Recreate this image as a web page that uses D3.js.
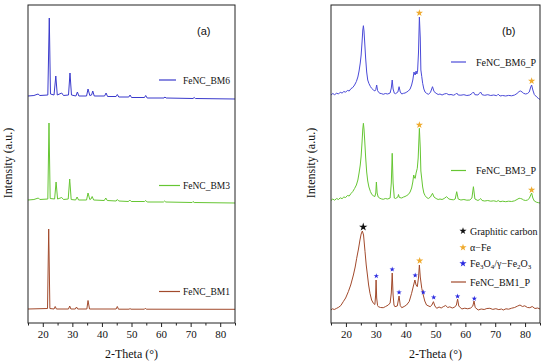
<!DOCTYPE html>
<html>
<head>
<meta charset="utf-8">
<script src="https://cdn.jsdelivr.net/npm/d3@7"></script>
<style>
  body { margin: 0; background: #fff; }
  svg { display: block; }
  text { font-family: "Liberation Serif", "Times New Roman", serif; fill: #111; }
</style>
</head>
<body>
<svg id="chart" width="550" height="363"></svg>
<script>
// 2-theta range and ticks
const thetaRange = [15, 85];
const majorTicks = [20, 30, 40, 50, 60, 70, 80];
const minorTicks = [15, 25, 35, 45, 55, 65, 75, 85];

// panel (a): [2theta, intensity (a.u., offset included)]
const bm6 = [[15,227],[17,227.5],[18.4,229],[19,227.5],[21.7,228],[22.2,305],[22.6,229],[23.8,228],[24.4,247],[24.9,228],[26.4,230],[27,227.5],[28.7,228],[29.2,250],[29.7,228],[31.2,227],[31.7,231],[32.2,227],[34.8,227],[35.3,234],[35.9,227.5],[36.5,228],[36.9,232],[37.4,227],[40.9,227],[41.4,230],[41.9,226.5],[44.8,226.5],[45.2,228.5],[45.7,226],[49.1,226],[49.5,228],[50,225.5],[54.4,225.5],[54.8,227.5],[55.3,225],[61,225],[61.3,226],[61.7,225],[70.8,224.5],[71.2,225.5],[71.6,224.5],[85,224]];
const bm3 = [[15,123],[17,123.5],[18.5,125],[19,123.5],[21.7,124],[22.1,200],[22.5,124.5],[24.0,124],[24.5,141],[25,124],[26.4,125.5],[27,123.5],[28.6,124],[29.1,144],[29.6,123.5],[31.1,123],[31.6,126],[32.1,123],[34.8,123],[35.3,130],[35.9,123.5],[36.3,124],[36.7,126.5],[37.2,123],[40.8,122.5],[41.3,125],[41.8,122.5],[44.8,122],[45.2,123.5],[45.7,122],[49,121.5],[49.4,123],[49.9,121.5],[54.4,121.5],[54.8,122.5],[55.3,121],[60.8,121],[61.2,122],[61.6,121],[70.5,120.5],[70.8,121.5],[71.2,120.5],[85,120]];
const bm1 = [[15,14],[21.6,14.5],[22.0,94],[22.4,14.5],[23.8,14],[24.2,16.5],[24.6,14],[28.7,14],[29.1,17],[29.5,14],[31.0,14],[31.4,16],[31.8,14],[34.9,14],[35.3,22.5],[35.8,14],[44.8,14],[45.2,16.5],[45.6,13.8],[49.2,13.8],[49.5,14.5],[49.8,13.8],[54.4,13.8],[54.7,14.8],[55,13.8],[85,13.7]];

// panel (b)
const bm6p = [[15,228],[15.6,229.5],[16.2,228.3],[16.9,229.8],[17.5,229],[18.1,230.8],[18.7,229.9],[19.3,231.5],[19.9,230.8],[20.5,232.6],[21.1,232],[21.7,234.4],[22.3,235.5],[22.9,238],[23.5,241.5],[24.0,246],[24.4,252],[24.8,260],[25.1,268],[25.4,281],[25.65,293],[25.85,297.3],[26.05,292],[26.3,280],[26.6,265],[26.95,251],[27.3,243],[27.7,239.5],[28.2,236.5],[28.6,234.7],[29.2,233],[29.7,232],[30.0,233.5],[30.3,238],[30.6,232.5],[31.0,230.5],[31.4,229.7],[32.0,229.3],[32.5,228.7],[33.2,229.5],[34.0,229],[34.8,230],[35.2,235],[35.5,243],[35.8,234],[36.2,229.8],[36.6,229.3],[37.4,231],[37.8,236.3],[38.2,231],[38.7,229],[39.3,229.7],[39.8,230],[40.4,231],[40.9,232],[41.5,234],[42.0,238],[42.4,243],[42.8,251],[43.0,249],[43.2,248],[43.5,252],[43.75,249],[44.0,252],[44.3,270],[44.6,306],[44.9,285],[45.1,253],[45.4,246.3],[45.7,239.7],[46.1,234],[46.5,231],[47.0,229.7],[47.6,228.7],[48.3,230.5],[49.0,236.3],[49.5,231.5],[50.2,229.7],[50.9,228.5],[51.5,229],[52.2,228],[52.9,229],[53.7,229.5],[54.5,228.2],[55.2,228.5],[56.0,227.8],[56.6,228.5],[57.1,230],[57.6,228],[58.5,227.8],[59.5,228.3],[60.5,227.5],[61.5,228],[62.2,229.5],[62.7,231],[63.2,228.3],[64.2,228],[64.7,229.6],[65.1,231],[65.6,228.3],[66.5,227.7],[67.5,228.3],[68.5,227.5],[69.5,228],[70.5,227.3],[71.0,228.8],[71.6,227],[72.5,227.5],[73.5,227],[74.5,227.6],[75.5,227.2],[76.5,228],[77.3,229.5],[78.0,231.5],[78.5,232],[79.0,231],[79.5,229.7],[80.2,229],[80.8,229.5],[81.4,231],[81.9,236],[82.2,238],[82.6,233],[83.1,228.5],[83.9,226],[84.5,224.5],[85,223.5]];
const bm3p = [[15,122.5],[15.6,124],[16.2,122.8],[16.9,124.5],[17.5,123.5],[18.1,125.2],[18.7,124.3],[19.3,126],[19.9,125.5],[20.5,127.5],[21.1,127],[21.7,129.5],[22.3,131.5],[22.9,134.5],[23.5,138],[24.0,143],[24.4,150],[24.8,158],[25.1,167],[25.4,181],[25.65,194],[25.85,199.7],[26.05,194],[26.3,182],[26.6,166],[26.95,151],[27.3,142],[27.7,136],[28.2,131.5],[28.6,129],[29.2,127],[29.7,126.5],[30.0,130],[30.2,141],[30.45,130],[30.8,126],[31.4,124.7],[32.0,124],[32.5,123.7],[33.2,124.5],[34.0,124],[34.8,125],[35.2,140],[35.5,169.7],[35.8,140],[36.2,125],[36.6,124.5],[37.4,126],[37.6,128.5],[37.9,125.5],[38.7,125],[39.3,126],[39.8,126.5],[40.4,127.5],[40.9,128.5],[41.5,131],[42.0,135],[42.4,141],[42.7,148],[43.0,145],[43.2,144.5],[43.5,150],[43.9,154.7],[44.2,165],[44.6,194.7],[44.9,175],[45.1,152],[45.4,144],[45.7,136],[46.1,130],[46.5,127.5],[47.0,125.5],[47.6,124.5],[48.3,126],[49.0,129.7],[49.5,126],[50.2,124.5],[50.9,123.5],[51.5,124],[52.2,123.5],[52.9,124.5],[53.7,126.3],[54.5,124],[55.2,123.5],[56.0,123.2],[56.6,124],[57.1,131.3],[57.6,124],[58.5,123],[59.5,123.5],[60.5,122.8],[61.5,123],[62.2,125],[62.7,136.3],[63.2,124],[64.2,122.5],[64.7,123.3],[65.1,124.5],[65.6,122.5],[66.5,122],[67.5,122.5],[68.5,121.8],[69.5,122.2],[70.5,121.5],[71.0,122.5],[71.6,121.3],[72.5,121.8],[73.5,121.3],[74.5,121.8],[75.5,121.5],[76.5,122.2],[77.3,123.5],[78.0,124.7],[78.5,124.5],[79.0,124],[79.5,123],[80.2,122.5],[80.8,123],[81.4,124.5],[81.9,128],[82.2,130],[82.6,125],[83.1,122],[83.9,120.7],[84.5,120.3],[85,120]];
const bm1p = [[15,13],[15.5,14.2],[16.1,13.5],[16.9,14.7],[17.6,15.8],[18.3,17.5],[19.1,21.3],[19.9,25],[20.8,31.3],[21.6,38],[22.5,48],[23.1,56],[23.6,64.7],[24.2,74],[24.7,83],[25.1,89],[25.5,92],[25.9,88],[26.4,71.3],[26.8,58],[27.2,48],[27.6,38],[28.06,29.7],[28.6,23],[29.2,19.7],[29.7,18.5],[29.95,28],[30.1,43],[30.3,25],[30.6,17.5],[30.85,16.3],[31.6,15.5],[32.5,15.3],[33.3,16.5],[34.2,18],[34.8,20],[35.2,30],[35.5,50],[35.8,28],[36.1,18],[36.4,16.3],[37.2,17],[37.8,27],[38.2,17.5],[38.7,15.3],[39.5,16.5],[40.3,18],[41.2,21.5],[42.0,29.7],[42.6,37],[43.1,43],[43.5,38],[43.9,36.3],[44.3,45],[44.6,58],[44.9,46],[45.4,34.7],[45.9,28],[46.4,22],[47.0,18],[48.2,16.3],[48.8,18],[49.3,21.3],[49.8,17],[50.4,14.7],[51.2,16],[51.9,15],[52.6,16.3],[53.4,17.5],[54.1,15.5],[54.8,16.2],[55.6,15],[56.4,15.8],[57.0,18],[57.4,24],[57.8,17],[58.8,14],[59.8,14.8],[60.8,14.2],[61.8,15],[62.5,17],[62.9,22],[63.3,15.5],[64.3,13],[65.3,14],[66.3,13.5],[67.2,14.5],[68.2,14.7],[69.2,13.6],[70.2,14.3],[71.2,13.4],[72.1,14],[72.7,13],[73.6,14.2],[74.5,13.8],[75.5,14.8],[76.5,15.5],[77.4,16.8],[78.3,18],[79.1,16.5],[79.9,17.2],[80.8,15.5],[81.6,15.3],[82.4,16.5],[83.3,14.5],[84.2,15],[85,14]];

// phase markers in panel (b)
const graphiteStars = [[25.8,96]];
const alphaFeStars = [[44.6,310],[82.2,242],[44.6,198],[82.2,133],[44.7,62.3]];
const oxideStars = [[30.17,47],[35.5,53.7],[37.8,30.7],[43.2,47.7],[45.9,30.7],[49.4,25.7],[57.4,26.7],[63.0,24.3]];

const blue = "#3a3acc", blueP = "#4a4ad8", green = "#66c633", brown = "#a24a2c";
const gold = "#efaa2e", starBlue = "#2a2ae0";

const svg = d3.select("#chart");
const plotTop = 5, plotBottom = 323;

let drawPanel = (left, right, series, tag) => {
  let x = d3.scaleLinear().domain(thetaRange).range([left, right]);
  let y = d3.scaleLinear().domain([0, 318]).range([plotBottom, plotTop]);
  let g = svg.append("g");

  let line = d3.line()
               .x((d) => x(d[0]))
               .y((d) => y(d[1]));

  series.forEach((s) => {
    g.append("path")
     .attr("d", line(s.data))
     .attr("fill", "none")
     .attr("stroke", s.color)
     .attr("stroke-width", 1)
     .attr("stroke-linejoin", "round");
  });

  // minor + major ticks, outward
  let minor = g.append("g")
               .attr("transform", `translate(0,${plotBottom})`)
               .call(d3.axisBottom(x).tickValues(minorTicks).tickSize(2.5).tickFormat(""));
  let major = g.append("g")
               .attr("transform", `translate(0,${plotBottom})`)
               .call(d3.axisBottom(x).tickValues(majorTicks).tickSize(4).tickPadding(3));
  [minor, major].forEach((a) => {
    a.select(".domain").remove();
    a.selectAll("line").attr("stroke", "#222");
  });
  major.selectAll("text")
       .style("font-family", "'Liberation Serif', serif")
       .attr("font-size", 11)
       .attr("fill", "#111");

  g.append("rect")
   .attr("x", left).attr("y", plotTop)
   .attr("width", right - left).attr("height", plotBottom - plotTop)
   .attr("fill", "none").attr("stroke", "#222").attr("stroke-width", 1);

  g.append("text")
   .attr("x", (left + right) / 2).attr("y", 358)
   .attr("text-anchor", "middle")
   .attr("font-size", 12)
   .text("2-Theta (°)");

  g.append("text")
   .attr("transform", `translate(${left - 16},163) rotate(-90)`)
   .attr("text-anchor", "middle")
   .attr("font-size", 12)
   .text("Intensity (a.u.)");

  g.append("text")
   .attr("x", right - 38).attr("y", 35)
   .style("font-family", "'Liberation Sans', Arial, sans-serif")
   .attr("font-size", 11)
   .text(tag);

  return { g, x, y };
};

let legendLine = (g, x1, x2, yy, tx, color, label, fs) => {
  g.append("line")
   .attr("x1", x1).attr("x2", x2).attr("y1", yy).attr("y2", yy)
   .attr("stroke", color).attr("stroke-width", 1.2);
  g.append("text")
   .attr("x", tx).attr("y", yy + 3.5)
   .attr("font-size", fs)
   .text(label);
};

let star = (size) => d3.symbol(d3.symbolStar).size(size)();

// panel (a)
let pa = drawPanel(28, 235, [
  { data: bm6, color: blue },
  { data: bm3, color: green },
  { data: bm1, color: brown }
], "(a)");
legendLine(pa.g, 159, 176, 80, 183, blue, "FeNC_BM6", 9.5);
legendLine(pa.g, 159, 180, 185.5, 183, green, "FeNC_BM3", 9.5);
legendLine(pa.g, 159, 180, 291.5, 183, brown, "FeNC_BM1", 9.5);

// panel (b)
let pb = drawPanel(331, 540, [
  { data: bm6p, color: blueP },
  { data: bm3p, color: green },
  { data: bm1p, color: brown }
], "(b)");

let drawStars = (data, color, size) => {
  pb.g.selectAll(null)
      .data(data)
      .enter()
      .append("path")
      .attr("d", star(size))
      .attr("transform", (d) => `translate(${pb.x(d[0])},${pb.y(d[1])})`)
      .attr("fill", color);
};
drawStars(graphiteStars, "#111", 22);
drawStars(alphaFeStars, gold, 16);
drawStars(oxideStars, starBlue, 9);

legendLine(pb.g, 451, 466, 62, 476, blueP, "FeNC_BM6_P", 10);
legendLine(pb.g, 451, 466, 170.5, 476, green, "FeNC_BM3_P", 10);

// phase legend
pb.g.append("path").attr("d", star(16)).attr("transform", "translate(463,231)").attr("fill", "#111");
pb.g.append("path").attr("d", star(16)).attr("transform", "translate(463,247.5)").attr("fill", gold);
pb.g.append("path").attr("d", star(16)).attr("transform", "translate(463,263.5)").attr("fill", starBlue);
pb.g.append("text").attr("x", 470).attr("y", 234.5).attr("font-size", 10).text("Graphitic carbon");
pb.g.append("text").attr("x", 470).attr("y", 251).attr("font-size", 10).text("α−Fe");
let ox = pb.g.append("text").attr("x", 470).attr("y", 267).attr("font-size", 10);
ox.append("tspan").text("Fe");
ox.append("tspan").attr("font-size", 7).attr("dy", 2).text("3");
ox.append("tspan").attr("dy", -2).text("O");
ox.append("tspan").attr("font-size", 7).attr("dy", 2).text("4");
ox.append("tspan").attr("dy", -2).text("/γ−Fe");
ox.append("tspan").attr("font-size", 7).attr("dy", 2).text("2");
ox.append("tspan").attr("dy", -2).text("O");
ox.append("tspan").attr("font-size", 7).attr("dy", 2).text("3");
legendLine(pb.g, 451, 466, 282, 470, brown, "FeNC_BM1_P", 10);
</script>
</body>
</html>
